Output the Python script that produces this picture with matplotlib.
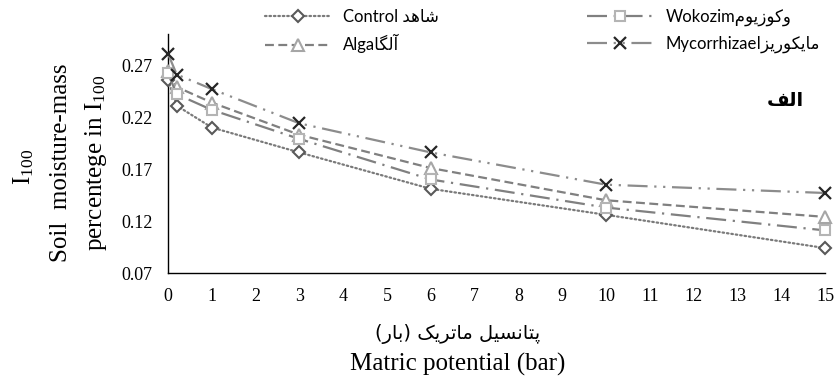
import numpy as np
import matplotlib
matplotlib.use("Agg")
import matplotlib.pyplot as plt

# matric potential (bar) and soil moisture for each treatment
potential = [0, 0.2, 1, 3, 6, 10, 15]
control = [0.256, 0.231, 0.210, 0.186, 0.151, 0.126, 0.094]
wokozim = [0.262, 0.242, 0.227, 0.199, 0.160, 0.133, 0.111]
alga = [0.264, 0.249, 0.234, 0.203, 0.171, 0.140, 0.124]
mycorrhizae = [0.281, 0.261, 0.247, 0.214, 0.186, 0.155, 0.147]

yticks = [0.07, 0.12, 0.17, 0.22, 0.27]
xticks = list(range(0, 16))

# contextual forms (isolated, final, initial, medial) for the Persian letters used
FORMS = {
    'ا': ('\uFE8D', '\uFE8E', None, None),
    'آ': ('\uFE81', '\uFE82', None, None),
    'ب': ('\uFE8F', '\uFE90', '\uFE91', '\uFE92'),
    'پ': ('\uFB56', '\uFB57', '\uFB58', '\uFB59'),
    'ت': ('\uFE95', '\uFE96', '\uFE97', '\uFE98'),
    'د': ('\uFEA9', '\uFEAA', None, None),
    'ر': ('\uFEAD', '\uFEAE', None, None),
    'ز': ('\uFEAF', '\uFEB0', None, None),
    'س': ('\uFEB1', '\uFEB2', '\uFEB3', '\uFEB4'),
    'ش': ('\uFEB5', '\uFEB6', '\uFEB7', '\uFEB8'),
    'ف': ('\uFED1', '\uFED2', '\uFED3', '\uFED4'),
    'ک': ('\uFB8E', '\uFB8F', '\uFB90', '\uFB91'),
    'گ': ('\uFB92', '\uFB93', '\uFB94', '\uFB95'),
    'ل': ('\uFEDD', '\uFEDE', '\uFEDF', '\uFEE0'),
    'م': ('\uFEE1', '\uFEE2', '\uFEE3', '\uFEE4'),
    'ن': ('\uFEE5', '\uFEE6', '\uFEE7', '\uFEE8'),
    'ه': ('\uFEE9', '\uFEEA', '\uFEEB', '\uFEEC'),
    'و': ('\uFEED', '\uFEEE', None, None),
    'ی': ('\uFBFC', '\uFBFD', '\uFBFE', '\uFBFF'),
}
MIRROR = {'(': ')', ')': '('}


def fa_word(word):
    # shape one word and return it in left-to-right drawing order
    out = []
    for i, ch in enumerate(word):
        if ch not in FORMS:
            out.append(MIRROR.get(ch, ch))
            continue
        prev = word[i - 1] if i > 0 else None
        nxt = word[i + 1] if i + 1 < len(word) else None
        join_prev = prev in FORMS and FORMS[prev][2] is not None
        join_next = nxt in FORMS and FORMS[ch][2] is not None
        iso, fin, ini, med = FORMS[ch]
        if join_prev and join_next:
            out.append(med)
        elif join_prev:
            out.append(fin)
        elif join_next:
            out.append(ini)
        else:
            out.append(iso)
    return ''.join(reversed(out))


def fa(text):
    # right-to-left: last word is drawn first
    return ' '.join(fa_word(w) for w in reversed(text.split(' ')))


serif = 'Liberation Serif'
sans = ['Lato', 'DejaVu Sans']

fig = plt.figure(figsize=(8.37, 3.87), dpi=100)
ax = fig.add_axes([168 / 837, 1 - 273 / 387, (825 - 168) / 837, (273 - 34) / 387])

line_c = '#808080'
ax.plot(potential, control, color='#7a7a7a', lw=1.6, ls=(0, (0.7, 1.3)),
        dash_capstyle='round', marker='D', ms=6, mfc='white', mec='#595959', mew=1.5,
        label='Control ' + fa('شاهد'), zorder=3)
ax.plot(potential, alga, color=line_c, lw=1.6, ls=(0, (4, 2)),
        marker='^', ms=8, mfc='white', mec='#a6a6a6', mew=1.5,
        label='Alga' + fa('آلگا'), zorder=3)
ax.plot(potential, wokozim, color=line_c, lw=1.6, ls=(0, (9, 3, 1, 3)),
        marker='s', ms=7.5, mfc='white', mec='#b4b4b4', mew=1.5,
        label='Wokozim' + fa('وکوزیوم'), zorder=3)
ax.plot(potential, mycorrhizae, color='#8c8c8c', lw=1.6, ls=(0, (9, 3, 1, 3, 1, 3)),
        marker='x', ms=8, mec='#262626', mew=1.6,
        label='Mycorrhizae' + fa('مایکوریزا'), zorder=4)

ax.set_xlim(0, 15)
ax.set_ylim(0.07, 0.30)
ax.set_xticks(xticks)
ax.set_yticks(yticks)
ax.set_yticklabels(['%.2f' % v for v in yticks])
ax.tick_params(length=0, labelsize=13, pad=11)
for lab in ax.get_xticklabels() + ax.get_yticklabels():
    lab.set_fontfamily(serif)
for s in ['top', 'right']:
    ax.spines[s].set_visible(False)
for s in ['left', 'bottom']:
    ax.spines[s].set_color('black')
    ax.spines[s].set_linewidth(1.0)
for ln in ax.lines:
    ln.set_clip_on(False)

ax.text(14.1, 0.236, fa('الف'), ha='center', va='center',
        fontsize=14, fontweight='bold', family=['DejaVu Sans'])

# y-axis titles
fig.text(24 / 837, 1 - 167 / 387, r'$\mathregular{I_{100}}$', rotation=90,
         ha='center', va='center', fontsize=18, family=serif)
fig.text(61 / 837, 1 - 163 / 387, 'Soil  moisture-mass', rotation=90,
         ha='center', va='center', fontsize=18, family=serif)
fig.text(96 / 837, 1 - 163 / 387, r'percentege in $\mathregular{I_{100}}$', rotation=90,
         ha='center', va='center', fontsize=18, family=serif)

# x-axis titles
fig.text(458 / 837, 1 - 334 / 387, fa('پتانسیل ماتریک (بار)'),
         ha='center', va='center', fontsize=14, family=['DejaVu Sans'])
fig.text(458 / 837, 1 - 364 / 387, 'Matric potential (bar)',
         ha='center', va='center', fontsize=18, family=serif)

h, l = ax.get_legend_handles_labels()
leg_kw = dict(frameon=False, prop={'family': sans, 'size': 12}, handlelength=3.9,
              handletextpad=0.8, labelspacing=0.55, borderpad=0, borderaxespad=0,
              numpoints=1, loc='upper left')
fig.legend(h[:2], l[:2], bbox_to_anchor=(265 / 837, 1 - 9 / 387), **leg_kw)
fig.legend(h[2:], l[2:], bbox_to_anchor=(587 / 837, 1 - 9 / 387), **leg_kw)

fig.savefig('out.png', dpi=100)
